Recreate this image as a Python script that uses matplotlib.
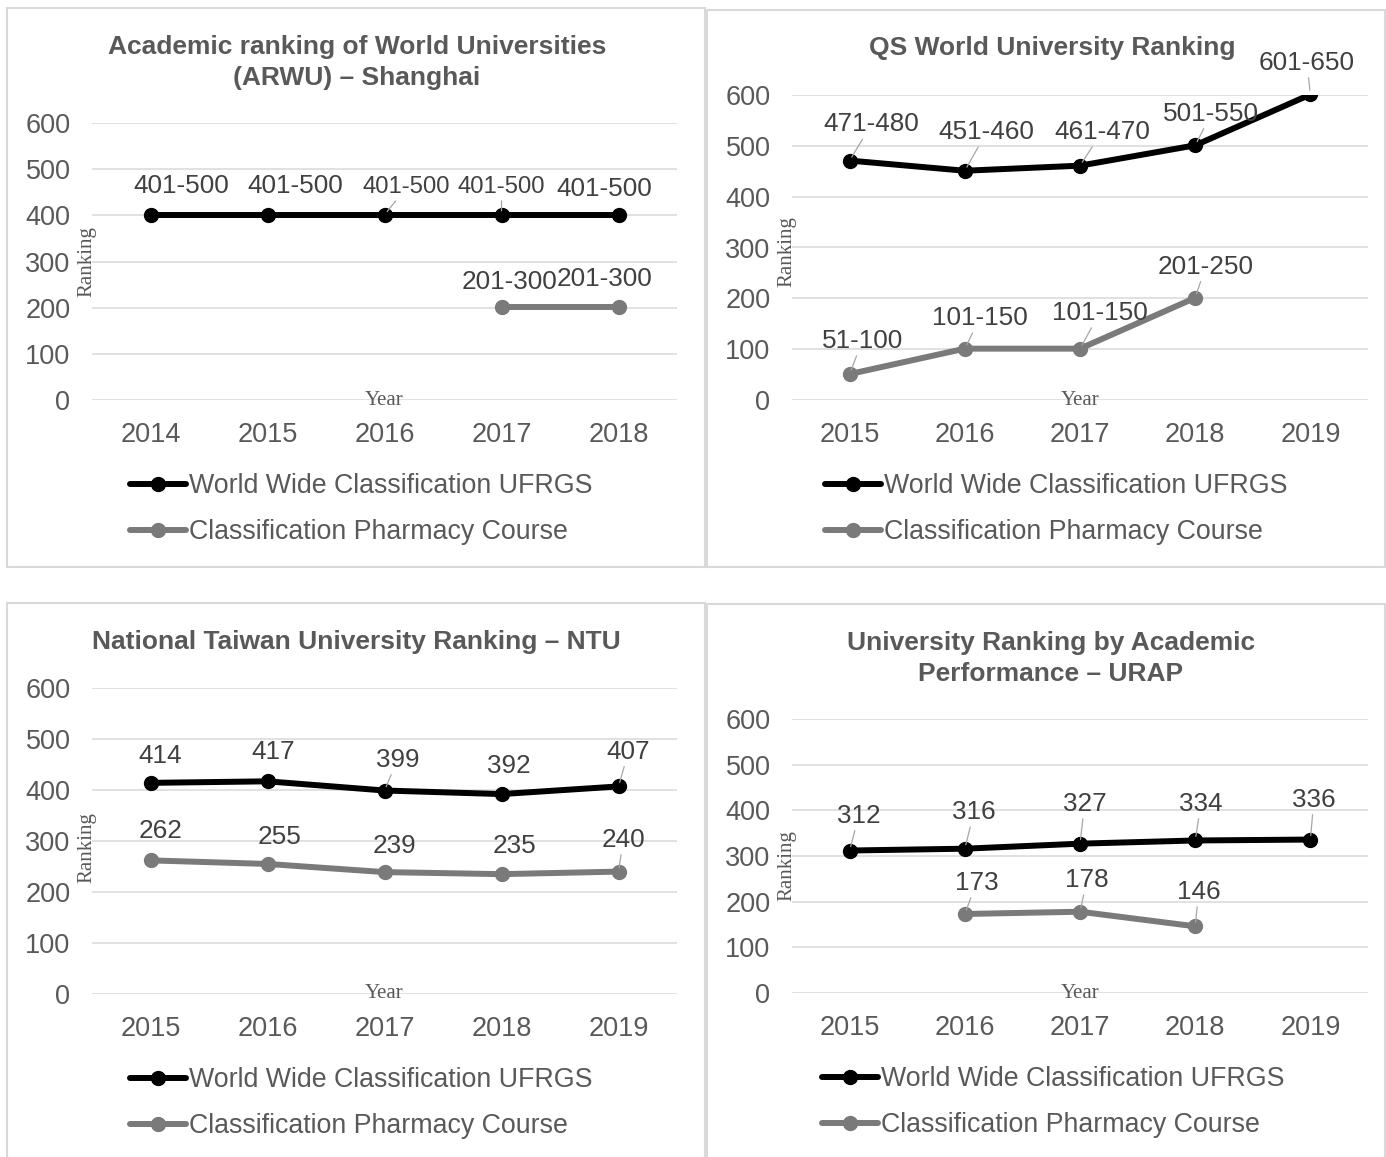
import numpy as np
import matplotlib
matplotlib.use('Agg')
import matplotlib.pyplot as plt
from matplotlib.patches import Rectangle

plt.rcParams['font.family'] = ['Liberation Sans', 'DejaVu Sans']

# data
years_arwu = ['2014', '2015', '2016', '2017', '2018']
years_other = ['2015', '2016', '2017', '2018', '2019']

arwu_ufrgs = [401, 401, 401, 401, 401]
arwu_pharm = [np.nan, np.nan, np.nan, 201, 201]
arwu_ufrgs_lbl = ['401-500'] * 5
arwu_pharm_lbl = ['', '', '', '201-300', '201-300']

qs_ufrgs = [471, 451, 461, 501, 601]
qs_pharm = [51, 101, 101, 201, np.nan]
qs_ufrgs_lbl = ['471-480', '451-460', '461-470', '501-550', '601-650']
qs_pharm_lbl = ['51-100', '101-150', '101-150', '201-250', '']

ntu_ufrgs = [414, 417, 399, 392, 407]
ntu_pharm = [262, 255, 239, 235, 240]

urap_ufrgs = [312, 316, 327, 334, 336]
urap_pharm = [np.nan, 173, 178, 146, np.nan]

series_names = ['World Wide Classification UFRGS', 'Classification Pharmacy Course']
titles = ['Academic ranking of World Universities\n(ARWU) \u2013 Shanghai',
          'QS World University Ranking',
          'National Taiwan University Ranking \u2013 NTU',
          'University Ranking by Academic\nPerformance \u2013 URAP']

W, H = 1386, 1157
fig = plt.figure(figsize=(W / 100, H / 100), dpi=100)

def fx(px):
    return px / W

def fy(py):
    return 1 - py / H

# panel frames (pixels)
for (x0, y0, x1, y1) in [(7, 8, 705, 567), (707, 10, 1385, 567),
                         (7, 603, 705, 1160), (707, 604, 1385, 1160)]:
    fig.patches.append(Rectangle((fx(x0), fy(y1)), fx(x1 - x0), (y1 - y0) / H,
                                 transform=fig.transFigure, fill=False,
                                 edgecolor='#d9d9d9', lw=1.5))

BLACK = '#000000'
GRAY = '#7a7a7a'
TXT = '#595959'
LBL = '#404040'

def panel(rect_px, title_xy, years, s1, s2, l1, l2, off1, off2, lead1, lead2,
          leg_xy, rank_xy, year_y, small=()):
    x0, y0, x1, y1 = rect_px
    ax = fig.add_axes([fx(x0), fy(y1), fx(x1 - x0), (y1 - y0) / H])
    x = np.arange(len(years))
    ax.set_xlim(-0.5, len(years) - 0.5)
    ax.set_ylim(0, 600)
    ax.set_yticks(range(0, 601, 100))
    ax.set_xticks(x)
    ax.set_xticklabels(years)
    ax.grid(axis='y', color='#d9d9d9', lw=1.1)
    ax.set_axisbelow(True)
    for s in ax.spines.values():
        s.set_visible(False)
    ax.tick_params(length=0, labelsize=19.5, colors=TXT)
    ax.tick_params(axis='y', pad=15.5)
    ax.tick_params(axis='x', pad=15.5)
    h1, = ax.plot(x, s1, color=BLACK, lw=4.3, marker='o', ms=10, solid_capstyle='round')
    h2, = ax.plot(x, s2, color=GRAY, lw=4.3, marker='o', ms=10, solid_capstyle='round')
    for k, (vals, lbls, offs, leads) in enumerate([(s1, l1, off1, lead1), (s2, l2, off2, lead2)]):
        for i, (v, t) in enumerate(zip(vals, lbls)):
            if t == '' or np.isnan(v):
                continue
            dx, dy = offs[i]
            ap = None
            if leads[i]:
                ap = dict(arrowstyle='-', color='#a6a6a6', lw=0.9, shrinkA=0, shrinkB=3)
            fs = 17.2 if (k, i) in small else 18.8
            ax.annotate(t, xy=(i, v), xytext=(i + dx, v + dy), ha='center', va='center',
                        fontsize=fs, color=LBL, arrowprops=ap, annotation_clip=False)
    fig.text(fx(title_xy[0]), fy(title_xy[1]), title_xy[2], ha='center', va='top',
             fontsize=19, fontweight='bold', color=TXT, linespacing=1.35)
    ax.legend([h1, h2], series_names, loc='upper left',
              bbox_to_anchor=(fx(leg_xy[0]), fy(leg_xy[1])), bbox_transform=fig.transFigure,
              frameon=False, fontsize=19.3, handlelength=2.1, handletextpad=0.1,
              labelspacing=0.75, borderpad=0, borderaxespad=0, labelcolor=TXT)
    fig.text(fx(rank_xy[0]), fy(rank_xy[1]), 'Ranking', rotation=90, ha='center', va='center',
             fontsize=15, family='Liberation Serif', color=TXT)
    fig.text(fx((x0 + x1) / 2), fy(year_y), 'Year', ha='center', va='center',
             fontsize=15, family='Liberation Serif', color=TXT)
    return ax

# ARWU
panel((92, 123, 677, 400), (357, 35, titles[0]), years_arwu,
      arwu_ufrgs, arwu_pharm, arwu_ufrgs_lbl, arwu_pharm_lbl,
      [(0.26, 62), (0.24, 62), (0.19, 60), (0.0, 60), (-0.12, 56)],
      [(0, 0), (0, 0), (0, 0), (0.07, 55), (-0.12, 61)],
      [0, 0, 1, 1, 0], [0, 0, 0, 0, 0],
      (130, 473), (87, 262), 401, small=((0, 2), (0, 3)))

# QS
panel((792, 95, 1368, 400), (1052, 36, titles[1]), years_other,
      qs_ufrgs, qs_pharm, qs_ufrgs_lbl, qs_pharm_lbl,
      [(0.19, 71), (0.19, 76), (0.19, 66), (0.14, 62), (-0.03, 62)],
      [(0.11, 65), (0.13, 60), (0.17, 70), (0.09, 61), (0, 0)],
      [1, 1, 1, 1, 1], [1, 1, 1, 1, 0],
      (825, 473), (787, 252), 401)

# NTU
panel((92, 688, 677, 994), (356, 630, titles[2]), years_other,
      ntu_ufrgs, ntu_pharm, [str(v) for v in ntu_ufrgs], [str(v) for v in ntu_pharm],
      [(0.085, 53), (0.05, 58), (0.11, 60), (0.06, 55), (0.085, 68)],
      [(0.085, 58), (0.10, 53), (0.085, 51), (0.11, 55), (0.04, 62)],
      [0, 0, 1, 0, 1], [0, 0, 0, 0, 1],
      (130, 1067), (87, 848), 994)

# URAP
panel((792, 719, 1368, 993), (1051, 631, titles[3]), years_other,
      urap_ufrgs, urap_pharm, [str(v) for v in urap_ufrgs], [str(v) for v in urap_pharm],
      [(0.08, 76), (0.08, 80), (0.04, 87), (0.05, 80), (0.03, 87)],
      [(0, 0), (0.10, 68), (0.06, 69), (0.03, 75), (0, 0)],
      [1, 1, 1, 1, 1], [0, 1, 1, 1, 0],
      (822, 1066), (787, 866), 993)

fig.savefig('out.png', dpi=100)
